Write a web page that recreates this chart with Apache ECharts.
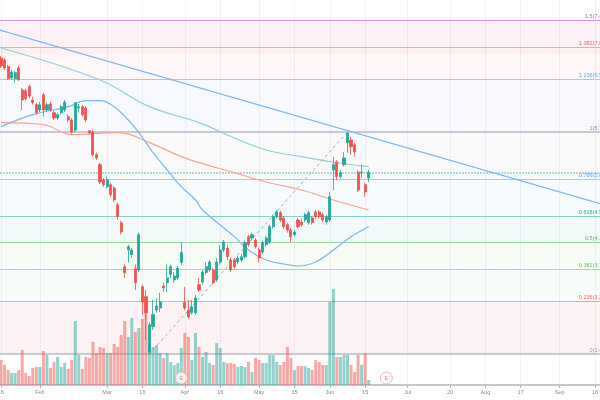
<!DOCTYPE html>
<html><head><meta charset="utf-8">
<script src="https://cdn.jsdelivr.net/npm/echarts@6/dist/echarts.min.js"></script>
<style>html,body{margin:0;padding:0;background:#fff}#c{width:600px;height:400px}</style>
</head><body><div id="c"></div>
<script>
// x = trading-day index, 0 = 16 Jan 2020
const tickIndex = [0,11,30,40,52,62,73,83,93,103,115,127,137,147,158,168];
const tickLabels = ['16','Feb','Mar','16','Apr','16','May','15','Jun','15','Jul','20','Aug','17','Sep','16'];
const firstIndex = -1;
const opens = [6.94,6.89,6.86,6.76,6.59,6.58,6.74,6.41,6.40,6.46,6.26,6.19,6.11,6.34,6.11,6.20,6.07,5.99,6.07,6.11,6.01,5.96,5.81,6.14,6.16,6.14,5.80,5.78,5.44,5.29,5.06,4.96,4.99,4.94,4.69,4.42,3.76,4.01,3.94,3.73,3.71,3.46,3.31,2.48,2.86,3.11,3.14,3.47,3.52,3.64,3.56,3.59,3.82,3.22,3.11,3.07,3.07,3.49,3.53,3.67,3.71,3.71,3.56,3.83,4.01,4.04,3.86,3.86,3.83,3.86,3.91,4.21,4.19,4.16,4.01,3.98,4.09,4.13,4.36,4.51,4.57,4.49,4.39,4.31,4.24,4.46,4.43,4.46,4.42,4.49,4.58,4.58,4.54,4.43,4.46,5.21,5.33,5.11,5.29,5.62,5.66,5.59,5.18,5.17,4.99,5.09];
const closes = [6.82,6.77,6.74,6.58,6.68,6.67,6.56,6.26,6.28,6.32,6.22,6.07,6.19,6.11,6.19,6.11,5.99,6.04,6.16,6.23,5.96,5.78,6.22,6.16,6.04,5.96,5.77,5.44,5.39,5.03,4.99,5.06,4.84,4.76,4.51,4.28,3.67,4.06,4.01,3.52,4.24,3.23,3.07,2.89,3.04,3.17,3.23,3.44,3.59,3.76,3.62,3.74,3.97,3.14,3.01,3.16,3.29,3.41,3.68,3.76,3.83,3.52,3.83,4.01,4.13,3.91,3.71,3.76,3.89,3.91,4.12,4.09,4.24,4.06,3.89,4.12,4.19,4.36,4.51,4.58,4.46,4.36,4.31,4.21,4.28,4.36,4.39,4.54,4.57,4.42,4.51,4.51,4.46,4.51,4.81,5.29,5.11,5.17,5.39,5.76,5.56,5.48,4.91,5.18,4.88,5.18];
const highs = [6.98,6.92,6.89,6.79,6.71,6.70,6.77,6.44,6.43,6.49,6.31,6.22,6.23,6.37,6.22,6.23,6.10,6.07,6.19,6.26,6.05,5.99,6.23,6.20,6.19,6.17,5.81,5.81,5.47,5.32,5.09,5.11,5.02,4.97,4.72,4.45,3.80,4.09,4.04,3.79,4.27,3.49,3.41,2.93,3.26,3.29,3.37,3.52,3.79,3.79,3.68,3.77,4.12,3.46,3.26,3.26,3.34,3.59,3.71,3.83,3.86,3.74,3.89,4.09,4.16,4.09,3.89,3.89,3.92,3.95,4.15,4.24,4.27,4.19,4.04,4.15,4.22,4.39,4.54,4.61,4.60,4.52,4.42,4.34,4.31,4.49,4.48,4.57,4.60,4.52,4.61,4.61,4.57,4.54,4.88,5.41,5.36,5.21,5.48,5.78,5.71,5.62,5.21,5.29,5.02,5.21];
const lows = [6.77,6.74,6.71,6.56,6.56,6.52,6.55,6.11,6.25,6.29,6.19,6.04,6.08,6.01,6.08,6.08,5.96,5.96,6.04,6.08,5.93,5.75,5.78,6.07,6.01,5.93,5.74,5.41,5.36,5.00,4.96,4.93,4.81,4.73,4.46,4.24,3.59,3.82,3.89,3.41,3.68,3.04,2.66,2.45,2.81,3.07,3.08,3.38,3.38,3.59,3.52,3.56,3.79,3.11,2.98,3.04,3.04,3.38,3.49,3.64,3.68,3.49,3.53,3.79,3.98,3.86,3.68,3.73,3.80,3.83,3.88,4.06,4.16,4.03,3.82,3.95,4.06,4.10,4.33,4.48,4.43,4.33,4.27,4.13,4.21,4.33,4.36,4.43,4.39,4.39,4.48,4.48,4.43,4.39,4.43,4.91,5.06,5.08,5.26,5.47,5.44,5.41,4.88,5.09,4.81,5.03];
// volume, millions
const volumes = [11.5,12.5,10,7.5,6,6,7.5,17.5,6,4.5,8.5,9,9,17,15,8.5,11.5,14,9,11,8,12.5,32,15,8,14,13.5,21.5,16,19,18.5,16,16,20.5,19,25,32,24,33.5,26.5,28.5,33,36.5,25,19,20,16,13.5,16,11.5,10,11,18.5,26,24,12.5,26,19,14,16.5,11,10,21,18.5,11.5,11,11,10.5,9,9.5,9,11.5,6.5,13.5,12.5,11,11,15,15,11.5,10,11.5,19,13.5,7.5,9.5,9.5,9.5,8.5,7.5,12.5,11.5,10,10,41.5,48,14,14,15,15,10,6.5,15,10,16,2.5];
// moving averages: [day index, price]
const maFast = [[0,5.86],[9,6.04],[19,6.16],[24,6.25],[28,6.25],[32,6.16],[36,5.96],[39,5.77],[43,5.47],[47,5.21],[51,4.96],[55,4.76],[57,4.61],[66,4.21],[70,4.01],[75,3.86],[80,3.80],[84,3.77],[89,3.83],[94,4.01],[99,4.21],[104,4.36]];
const maMid = [[0,7.04],[28,6.56],[42,6.16],[56,5.92],[66,5.69],[75,5.51],[85,5.41],[94,5.33],[104,5.26]];
const maSlow = [[0,5.92],[12,5.89],[20,5.74],[33,5.77],[42,5.62],[51,5.41],[56,5.32],[66,5.17],[75,5.03],[85,4.91],[94,4.76],[104,4.61]];
const trendLine = [[-1,7.32],[173,4.65]];
const fibAnchor = [[42,2.45],[98,5.78]];
const fibRatios = [0,0.236,0.382,0.5,0.618,0.786,1,1.236,1.382,1.5];
const hLinePrice = 5.17;
const earnings = [[51,3.5],[109,3.5]];

const fibLow = fibAnchor[0][1], fibHigh = fibAnchor[1][1];
const fibLine = ['#b8bac2','#f5a3a3','#a9d8ab','#9dd3a0','#86cfc6','#9ccbf3','#b8bac2','#9ccbf3','#f6a5a5','#cf9be0'];
const fibText = ['#9a9ca5','#ef6b6b','#6fbf73','#5fb563','#3aa89a','#5aa9ec','#8a8d96','#5aa9ec','#ef6b6b','#b462cc'];
const fibFill = ['rgba(242,54,69,0.06)','rgba(129,199,132,0.06)','rgba(76,175,80,0.05)','rgba(8,153,129,0.05)','rgba(100,181,246,0.06)','rgba(120,123,134,0.04)','rgba(41,98,255,0.035)','rgba(242,54,69,0.045)','rgba(156,39,176,0.03)','rgba(242,54,69,0.035)'];

const candles = opens.map((o, k) => [firstIndex + k, o, closes[k], lows[k], highs[k]]);
const vols = volumes.map((v, k) => ({value: [firstIndex + k, v], itemStyle: {color: closes[k] >= opens[k] ? 'rgba(38,166,154,0.5)' : 'rgba(239,83,80,0.5)'}}));

const levels = fibRatios.map(r => fibLow + r * (fibHigh - fibLow));
const markLines = levels.map((p, j) => ({
  yAxis: p,
  lineStyle: {color: fibLine[j], width: j === 0 || j === 6 ? 1.5 : 1.2, type: 'solid'},
  label: {show: true, position: 'insideEndTop', distance: [5, 1], formatter: fibRatios[j] + '(' + p.toFixed(2) + ')', color: fibText[j], fontSize: 5.5, fontFamily: 'Liberation Sans'}
}));
markLines.push({yAxis: hLinePrice, lineStyle: {color: '#8fd3ca', width: 1.5, type: [2,1]}, label: {show: false}});
const markAreas = levels.map((p, j) => [{yAxis: p, itemStyle: {color: fibFill[j]}}, {yAxis: j < levels.length - 1 ? levels[j + 1] : 'max'}]);

const chart = echarts.init(document.getElementById('c'), null, {renderer: 'canvas'});
chart.setOption({
  animation: false,
  backgroundColor: '#fff',
  grid: {left: 0, top: 0, width: 612, height: 385, outerBoundsMode: 'none', containLabel: false},
  xAxis: {
    type: 'value', min: -0.2828, max: 172.81,
    axisLine: {show: true, onZero: false, lineStyle: {color: '#b2b5be', width: 1.5}},
    axisTick: {show: true, customValues: tickIndex, length: 3, lineStyle: {color: '#b2b5be'}},
    axisLabel: {customValues: tickIndex, formatter: v => tickLabels[tickIndex.indexOf(v)], fontSize: 5.5, color: '#868993', fontFamily: 'Liberation Sans', margin: 4, hideOverlap: false},
    splitLine: {show: true, lineStyle: {color: '#f0f3fa', width: 1}}
  },
  yAxis: [
    {type: 'value', min: 1.985, max: 7.76, show: false},
    {type: 'value', min: 0, max: 192.5, show: false}
  ],
  series: [
    {
      type: 'candlestick', data: candles, encode: {x: 0, y: [1, 2, 3, 4]}, barWidth: 2.6, z: 4,
      itemStyle: {color: '#26a69a', color0: '#ef5350', borderColor: '#26a69a', borderColor0: '#ef5350', borderWidth: 0.8},
      markArea: {silent: true, z: 0, data: markAreas},
      markLine: {silent: true, symbol: 'none', z: 1, animation: false, data: markLines}
    },
    {type: 'bar', yAxisIndex: 1, data: vols, barWidth: 3, z: 2},
    {type: 'line', data: maSlow, showSymbol: false, smooth: 0.4, lineStyle: {color: '#f7a58f', width: 1.2}, z: 3},
    {type: 'line', data: maMid, showSymbol: false, smooth: 0.4, lineStyle: {color: '#8fd0da', width: 1.2}, z: 3},
    {type: 'line', data: maFast, showSymbol: false, smooth: 0.4, lineStyle: {color: '#7ab8ec', width: 1.2}, z: 3},
    {type: 'line', data: trendLine, showSymbol: false, lineStyle: {color: '#79b6ec', width: 1.2}, z: 3},
    {type: 'line', data: fibAnchor, showSymbol: false, lineStyle: {color: '#a6a8b0', width: 1, type: [3,3]}, z: 3},
    {type: 'scatter', yAxisIndex: 1, data: earnings, symbolSize: 12, z: 6,
      itemStyle: {color: '#fff', borderColor: '#f4a3a0', borderWidth: 1},
      label: {show: true, position: 'inside', formatter: 'E', color: '#ef6b6b', fontSize: 6, fontFamily: 'Liberation Sans'}}
  ]
});
</script></body></html>
